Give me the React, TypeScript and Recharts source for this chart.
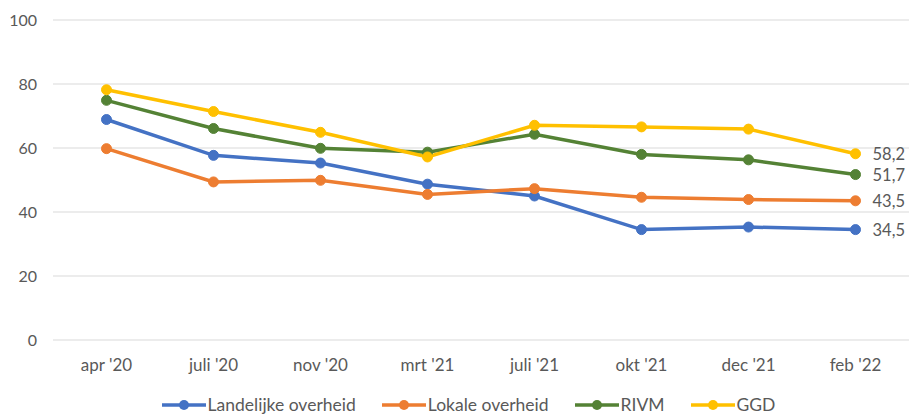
import React from "react";
import { LineChart, Line, XAxis, YAxis, CartesianGrid } from "recharts";

const categories = ["apr '20", "juli '20", "nov '20", "mrt '21", "juli '21", "okt '21", "dec '21", "feb '22"];
const landelijke = [68.9, 57.7, 55.3, 48.7, 45.0, 34.5, 35.3, 34.5];
const lokale = [59.8, 49.4, 49.9, 45.5, 47.3, 44.6, 43.9, 43.5];
const rivm = [74.9, 66.1, 59.9, 58.7, 64.3, 58.0, 56.3, 51.7];
const ggd = [78.2, 71.4, 64.9, 57.2, 67.1, 66.6, 65.9, 58.2];
const yTicks = [0, 20, 40, 60, 80, 100];

const series = [
  { key: "landelijke", name: "Landelijke overheid", color: "#4472C4", values: landelijke },
  { key: "lokale", name: "Lokale overheid", color: "#ED7D31", values: lokale },
  { key: "rivm", name: "RIVM", color: "#548235", values: rivm },
  { key: "ggd", name: "GGD", color: "#FFC000", values: ggd },
];

const data = categories.map((c, i) => {
  const row: any = { cat: c };
  series.forEach((s) => (row[s.key] = s.values[i]));
  return row;
});

const FONT = "Lato, 'Open Sans', sans-serif";
const TEXT = "#595959";

const lastIndex = categories.length - 1;
const EndLabel = (props: any) => {
  const { x, y, index, value } = props;
  if (index !== lastIndex) return null;
  return (
    <text x={x + 17} y={y} dy="0.36em" fill={TEXT} fontSize={16.5} fontFamily={FONT}>
      {String(value).replace(".", ",")}
    </text>
  );
};

export default function App() {
  return (
    <div style={{ position: "absolute", left: 0, top: 0, width: 909, height: 414, background: "#fff" }}>
      <LineChart width={909} height={414} data={data} margin={{ top: 20, right: 0, left: 0, bottom: 44 }}>
        <CartesianGrid vertical={false} stroke="#D9D9D9" strokeWidth={1} />
        <XAxis
          dataKey="cat"
          axisLine={false}
          tickLine={false}
          tickSize={0}
          tickMargin={19}
          height={30}
          interval={0}
          padding={{ left: 53.5, right: 53.5 }}
          tick={{ fill: TEXT, fontSize: 17, fontFamily: FONT }}
        />
        <YAxis
          domain={[0, 100]}
          ticks={yTicks}
          axisLine={false}
          tickLine={false}
          tickSize={0}
          tickMargin={16}
          width={53}
          tick={{ fill: TEXT, fontSize: 16, fontFamily: FONT }}
        />
        {series.map((s) => (
          <Line
            key={s.key}
            dataKey={s.key}
            name={s.name}
            stroke={s.color}
            strokeWidth={3.5}
            dot={{ r: 5, fill: s.color, stroke: s.color, strokeWidth: 1 }}
            activeDot={false}
            isAnimationActive={false}
            label={<EndLabel />}
          />
        ))}
      </LineChart>
      <div
        style={{
          position: "absolute",
          left: 0,
          top: 394,
          width: 909,
          display: "flex",
          justifyContent: "center",
          gap: 26,
          paddingLeft: 28,
          boxSizing: "border-box",
          fontFamily: FONT,
          fontSize: 17.5,
          color: TEXT,
          lineHeight: "22px",
        }}
      >
        {series.map((s) => (
          <div key={s.key} style={{ display: "flex", alignItems: "center" }}>
            <svg width={44} height={14} style={{ marginRight: 2 }}>
              <line x1={0} y1={7} x2={44} y2={7} stroke={s.color} strokeWidth={3.5} />
              <circle cx={22} cy={7} r={5} fill={s.color} />
            </svg>
            <span>{s.name}</span>
          </div>
        ))}
      </div>
    </div>
  );
}
